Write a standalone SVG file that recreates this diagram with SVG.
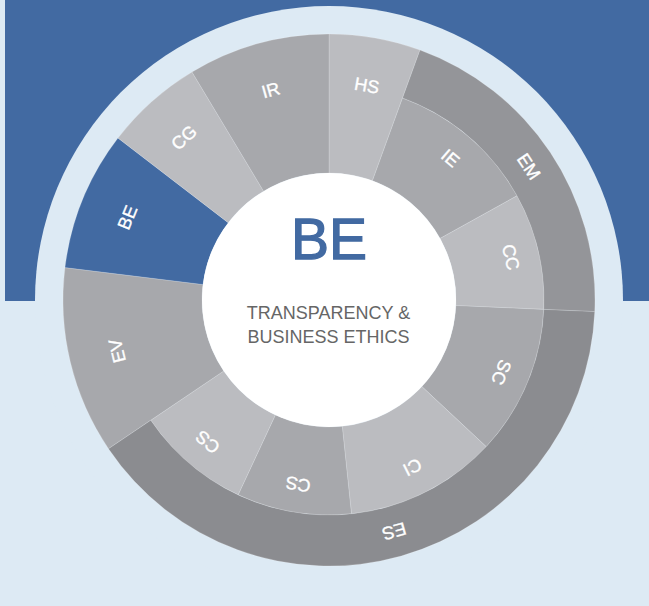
<svg xmlns="http://www.w3.org/2000/svg" width="649" height="606" viewBox="0 0 649 606">
<style>
.bg{fill:#ddeaf4}
.blue{fill:#426aa2}
.seg{stroke:#ffffff;stroke-opacity:0.22;stroke-width:0.8}
.light{fill:#bbbcc0}
.mid{fill:#a7a8ac}
.em{fill:#949599}
.es{fill:#8b8c90}
.lbl{font-family:"Liberation Sans",Arial,sans-serif;font-size:18px;fill:#ffffff;stroke:#ffffff;stroke-width:0.35;text-anchor:middle}
.title{font-family:"Liberation Sans",Arial,sans-serif;font-size:57px;fill:#426aa2;stroke:#426aa2;stroke-width:1.3;text-anchor:middle}
.sub{font-family:"Liberation Sans",Arial,sans-serif;font-size:18px;fill:#666666;text-anchor:middle}
</style>
<rect class="bg" x="0" y="0" width="649" height="606"/>
<rect class="blue" x="5" y="0" width="644" height="301"/>
<circle class="bg" cx="329" cy="300" r="294"/>

<g id="HS"><path class="seg light" d="M329,34 A266,266 0 0 1 419.98,50.04 L372.44,180.66 A127,127 0 0 0 329,173 Z"/><text class="lbl" transform="translate(366.86,85.31) rotate(10)" y="6.4">HS</text></g>
<g id="IE"><path class="seg mid" d="M402.53,97.97 A215,215 0 0 1 517.04,195.77 L440.08,238.43 A127,127 0 0 0 372.44,180.66 Z"/><text class="lbl" transform="translate(450.45,157.8) rotate(40.5)" y="6.4">IE</text></g>
<g id="CC"><path class="seg light" d="M517.04,195.77 A215,215 0 0 1 543.8,309.38 L455.88,305.54 A127,127 0 0 0 440.08,238.43 Z"/><text class="lbl" transform="translate(511.02,257.14) rotate(76.75)" y="6.4">CC</text></g>
<g id="SC"><path class="seg mid" d="M543.8,309.38 A215,215 0 0 1 486.24,446.63 L421.88,386.61 A127,127 0 0 0 455.88,305.54 Z"/><text class="lbl" transform="translate(501.45,372.31) rotate(112.75)" y="6.4">SC</text></g>
<g id="CI"><path class="seg light" d="M486.24,446.63 A215,215 0 0 1 351.47,513.82 L342.28,426.3 A127,127 0 0 0 421.88,386.61 Z"/><text class="lbl" transform="translate(412.44,467.35) rotate(153.5)" y="6.4">CI</text></g>
<g id="CS1"><path class="seg mid" d="M351.47,513.82 A215,215 0 0 1 238.14,494.86 L275.33,415.1 A127,127 0 0 0 342.28,426.3 Z"/><text class="lbl" transform="translate(298.14,484.44) rotate(189.5)" y="6.4">CS</text></g>
<g id="CS2"><path class="seg light" d="M238.14,494.86 A215,215 0 0 1 150.76,420.23 L223.71,371.02 A127,127 0 0 0 275.33,415.1 Z"/><text class="lbl" transform="translate(207.55,442.2) rotate(220.5)" y="6.4">CS</text></g>
<g id="EV"><path class="seg mid" d="M108.48,448.74 A266,266 0 0 1 64.98,267.58 L202.95,284.52 A127,127 0 0 0 223.71,371.02 Z"/><text class="lbl" transform="translate(117.02,350.89) rotate(256.5)" y="6.4">EV</text></g>
<g id="BE"><path class="seg blue" d="M64.98,267.58 A266,266 0 0 1 117.97,138.07 L228.24,222.69 A127,127 0 0 0 202.95,284.52 Z"/><text class="lbl" transform="translate(127.23,217.45) rotate(292.25)" y="6.4">BE</text></g>
<g id="CG"><path class="seg light" d="M117.97,138.07 A266,266 0 0 1 192,71.99 L263.59,191.14 A127,127 0 0 0 228.24,222.69 Z"/><text class="lbl" transform="translate(183.84,137.36) rotate(318.25)" y="6.4">CG</text></g>
<g id="IR"><path class="seg mid" d="M192,71.99 A266,266 0 0 1 329,34 L329,173 A127,127 0 0 0 263.59,191.14 Z"/><text class="lbl" transform="translate(270.74,89.93) rotate(344.5)" y="6.4">IR</text></g>
<g id="EM"><path class="seg em" d="M419.98,50.04 A266,266 0 0 1 594.75,311.6 L543.8,309.38 A215,215 0 0 0 402.53,97.97 Z"/><text class="lbl" transform="translate(528.97,166.39) rotate(56.25)" y="6.4">EM</text></g>
<g id="ES"><path class="seg es" d="M594.75,311.6 A266,266 0 0 1 108.48,448.74 L150.76,420.23 A215,215 0 0 0 543.8,309.38 Z"/><text class="lbl" transform="translate(394.28,531.47) rotate(164.25)" y="6.4">ES</text></g>

<g id="center">
<circle cx="329" cy="300" r="127" fill="#ffffff"/>
<text class="title" x="329" y="259">BE</text>
<text class="sub" x="328.5" y="319">TRANSPARENCY &amp;</text>
<text class="sub" x="328.5" y="343">BUSINESS ETHICS</text>
</g>
</svg>
